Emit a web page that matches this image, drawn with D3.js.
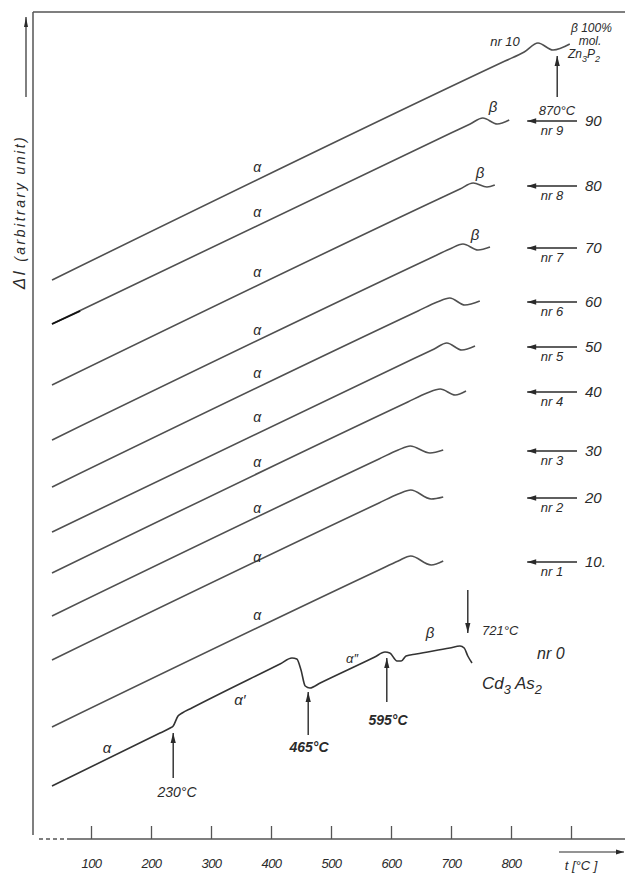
<!DOCTYPE html>
<html>
<head>
<meta charset="utf-8">
<script src="https://cdn.jsdelivr.net/npm/d3@7"></script>
<style>
  body { margin: 0; background: #fff; }
  text { font-family: "Liberation Sans", Arial, sans-serif; font-style: italic; fill: #2a2a2a; }
</style>
</head>
<body>
<script>
// temperature ticks on the x axis
const tickValues = [100, 200, 300, 400, 500, 600, 700, 800, 900];
const tickLabels = ["100", "200", "300", "400", "500", "600", "700", "800", ""];

// dilatometric curves, [t in degC, delta l in arbitrary units]
const nr10 = [[35, 560], [790, 779], [822, 788], [845, 797], [870, 790], [898, 796]];
const nr9 = [[35, 516], [700, 707], [732, 716], [753, 722], [777, 716], [797, 720]];
const nr8 = [[35, 455], [683, 642], [715, 651], [737, 657], [760, 653], [773, 655]];
const nr7 = [[35, 400], [666, 582], [698, 591], [720, 596], [745, 590], [765, 593]];
const nr6 = [[35, 353], [645, 529], [677, 538], [698, 542], [723, 535], [748, 539]];
const nr5 = [[35, 308], [640, 482], [672, 491], [693, 497], [718, 490], [740, 494]];
const nr4 = [[35, 267], [628, 438], [660, 447], [682, 451], [707, 445], [725, 449]];
const nr3 = [[35, 224], [580, 381], [612, 390], [632, 394], [665, 387], [687, 390]];
const nr2 = [[35, 180], [580, 337], [612, 346], [633, 350], [667, 341], [687, 343]];
const nr1 = [[35, 113], [580, 270], [612, 279], [633, 284], [667, 275], [687, 279]];
const nr0 = [[35, 54], [215, 107], [232, 112], [237, 114], [245, 124], [252, 127], [268, 132],
  [415, 176], [435, 182], [443, 181], [450, 170], [457, 154], [465, 152], [482, 157],
  [573, 183], [590, 188], [598, 187], [610, 179], [617, 179], [625, 184], [642, 186],
  [698, 192], [715, 194], [722, 192], [728, 184], [735, 177]];

// mol.% Zn3P2 for nr 1 .. nr 9
const compositions = ["10.", "20", "30", "40", "50", "60", "70", "80", "90"];
const labelled = [nr1, nr2, nr3, nr4, nr5, nr6, nr7, nr8, nr9];

// alpha labels above curves nr 10 .. nr 1
const alphaT = 377;
const alphaValues = [673, 628, 568, 510, 467, 423, 378, 332, 283, 225];

// transition arrows [t, from, to]
const transitions = [[237, 62, 107], [462, 105, 148], [593, 138, 182], [728, 250, 207], [877, 743, 784]];

const W = 625, H = 874;
const svg = d3.select("body").append("svg").attr("width", W).attr("height", H);

const x = d3.scaleLinear().domain([0, 990]).range([31, 625]);
const y = d3.scaleLinear().domain([0, 828]).range([840, 12]);

const ink = "#2a2a2a";
const lineCol = "#505050";

function arrow(x1, y1, x2, y2, len = 9, half = 3, w = 1.3) {
  svg.append("line").attr("x1", x1).attr("y1", y1).attr("x2", x2).attr("y2", y2)
    .attr("stroke", ink).attr("stroke-width", w);
  const a = Math.atan2(y2 - y1, x2 - x1);
  const bx = x2 - len * Math.cos(a), by = y2 - len * Math.sin(a);
  const px = -Math.sin(a) * half, py = Math.cos(a) * half;
  svg.append("path")
    .attr("d", `M${x2},${y2}L${bx + px},${by + py}L${bx - px},${by - py}Z`)
    .attr("fill", ink);
}

// frame: top line and left axis
svg.append("line").attr("x1", 33).attr("y1", 12).attr("x2", W).attr("y2", 12)
  .attr("stroke", "#555").attr("stroke-width", 1.3);
svg.append("line").attr("x1", 33).attr("y1", 12).attr("x2", 33).attr("y2", 835)
  .attr("stroke", "#555").attr("stroke-width", 1.5);

// x axis
const xAxis = svg.append("g").attr("transform", "translate(0,839)")
  .call(d3.axisTop(x).tickValues(tickValues).tickSize(13)
    .tickFormat((d, i) => tickLabels[i]));
xAxis.select(".domain").remove();
xAxis.selectAll(".tick line").attr("stroke", "#555").attr("stroke-width", 1.3);
xAxis.selectAll(".tick text").attr("y", 29).attr("dy", 0)
  .attr("font-size", 13).attr("fill", ink).attr("letter-spacing", -0.6);
svg.append("line").attr("x1", 67).attr("y1", 839).attr("x2", W).attr("y2", 839)
  .attr("stroke", "#555").attr("stroke-width", 1.3);
svg.append("line").attr("x1", 39).attr("y1", 839).attr("x2", 67).attr("y2", 839)
  .attr("stroke", "#555").attr("stroke-width", 1.3).attr("stroke-dasharray", "4,3");

arrow(559, 852, 624, 852, 8, 2.5, 1.1);
svg.append("text").attr("x", 581).attr("y", 870).attr("text-anchor", "middle")
  .attr("font-size", 13).text("t [°C ]");

// y axis label and arrow
arrow(26, 97, 26, 17, 10, 2, 1.2);
const yLab = svg.append("text").attr("transform", "translate(25,212) rotate(-90)")
  .attr("text-anchor", "middle").attr("font-size", 14).attr("letter-spacing", 2.5);
yLab.append("tspan").attr("font-size", 17).text("Δl ");
yLab.append("tspan").text("(arbitrary unit)");

// curves
const line = d3.line().x(d => x(d[0])).y(d => y(d[1])).curve(d3.curveMonotoneX);
const curves = [nr10, nr9, nr8, nr7, nr6, nr5, nr4, nr3, nr2, nr1, nr0];
svg.append("g").selectAll("path").data(curves).join("path")
  .attr("d", line)
  .attr("fill", "none")
  .attr("stroke", (d, i) => i === 10 ? "#333" : lineCol)
  .attr("stroke-width", 1.6);
// darker start of nr 9
svg.append("path")
  .attr("d", d3.line().x(d => x(d[0])).y(d => y(d[1]))([nr9[0], [82, 529]]))
  .attr("stroke", "#111").attr("stroke-width", 1.9).attr("fill", "none");

// alpha labels
svg.append("g").selectAll("text").data(alphaValues).join("text")
  .attr("x", x(alphaT)).attr("y", d => y(d) + 5)
  .attr("text-anchor", "middle").attr("font-size", 14)
  .attr("font-family", "DejaVu Serif").text("α");

// right-hand arrows, nr labels, compositions
labelled.forEach((c, i) => {
  const ay = y(c[c.length - 1][1]) + 1;
  arrow(x(910), ay, x(827), ay, 9, 2.8, 1.3);
  svg.append("text").attr("x", 552).attr("y", ay + 14).attr("text-anchor", "middle")
    .attr("font-size", 13).text("nr " + (i + 1));
  svg.append("text").attr("x", 585).attr("y", ay + 5)
    .attr("font-size", 15).text(compositions[i]);
});

// transition arrows
transitions.forEach(t => arrow(x(t[0]), y(t[1]), x(t[0]), y(t[2]), 10, 2.6, 1.4));

function label(tx, ty, str, size, opts = {}) {
  const t = svg.append("text").attr("x", tx).attr("y", ty).attr("font-size", size)
    .attr("text-anchor", opts.anchor || "start");
  if (opts.bold) t.attr("font-weight", "bold");
  if (opts.serif) t.attr("font-family", "DejaVu Serif");
  t.text(str);
  return t;
}
function subLabel(tx, ty, parts, size) {
  const t = svg.append("text").attr("x", tx).attr("y", ty).attr("font-size", size);
  let down = false;
  parts.forEach(p => {
    const sub = !!p[1];
    const dy = sub && !down ? size * 0.3 : (!sub && down ? -size * 0.3 : 0);
    t.append("tspan").attr("dy", dy).attr("font-size", sub ? size * 0.75 : size).text(p[0]);
    down = sub;
  });
}

label(505, 46, "nr 10", 13, { anchor: "middle" });
label(571, 32, "β 100%", 12);
label(590, 45, "mol.", 12, { anchor: "middle" });
subLabel(568, 58, [["Zn"], ["3", 1], ["P"], ["2", 1]], 12);
label(557, 115, "870°C", 13, { anchor: "middle" });

label(493, 112, "β", 15, { anchor: "middle", serif: true });
label(480, 178, "β", 15, { anchor: "middle", serif: true });
label(475, 240, "β", 15, { anchor: "middle", serif: true });
label(430, 638, "β", 15, { anchor: "middle", serif: true });

label(482, 635, "721°C", 13);
label(537, 659, "nr 0", 16);
subLabel(482, 689, [["Cd"], ["3", 1], [" As"], ["2", 1]], 17);

label(240, 705, "α′", 15, { anchor: "middle", serif: true });
label(352, 663, "α″", 13, { anchor: "middle", serif: true });
label(107, 753, "α", 15, { anchor: "middle", serif: true });

label(388, 725, "595°C", 14, { anchor: "middle", bold: true });
label(309, 752, "465°C", 14, { anchor: "middle", bold: true });
label(177, 797, "230°C", 14, { anchor: "middle" });
</script>
</body>
</html>
